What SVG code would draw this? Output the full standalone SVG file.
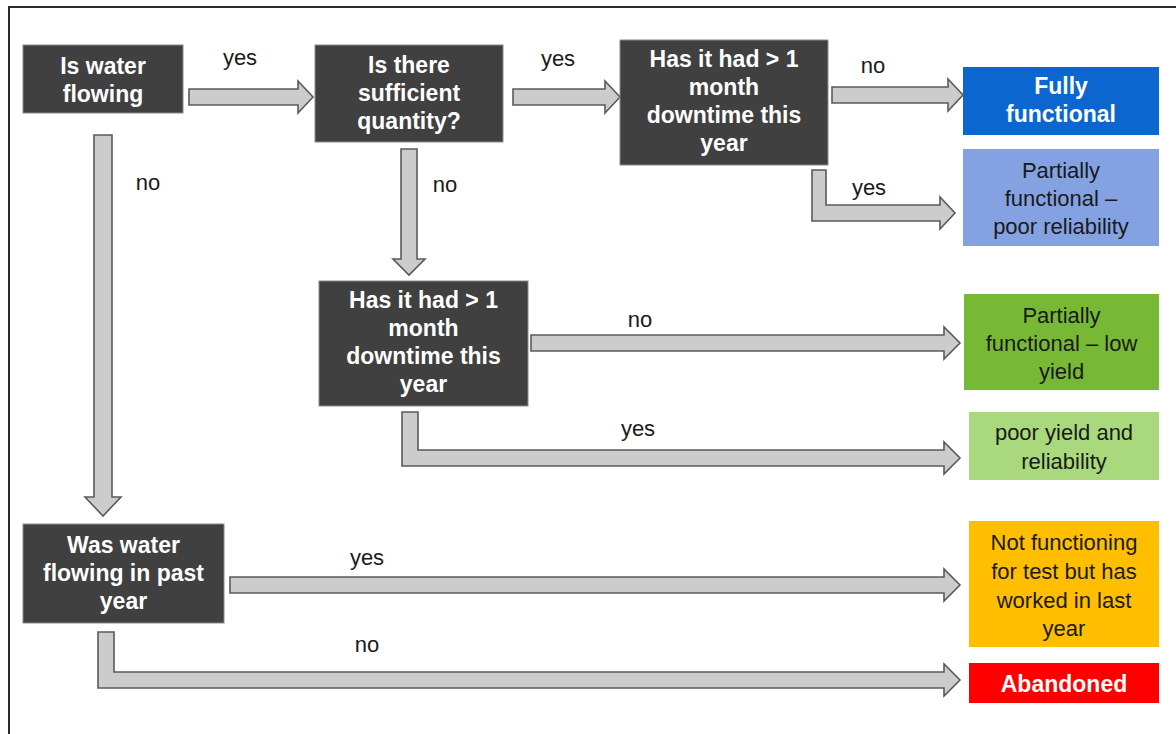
<svg xmlns="http://www.w3.org/2000/svg" width="1176" height="734" viewBox="0 0 1176 734">
<style>
.q{fill:#404040;stroke:#8a8a8a;stroke-width:1}
.qt{font-family:"Liberation Sans",Arial,sans-serif;font-weight:bold;font-size:23px;fill:#ffffff;text-anchor:middle}
.rt{font-family:"Liberation Sans",Arial,sans-serif;font-size:22px;fill:#1a1a1a;text-anchor:middle}
.rb{font-family:"Liberation Sans",Arial,sans-serif;font-weight:bold;font-size:23px;fill:#ffffff;text-anchor:middle}
.lb{font-family:"Liberation Sans",Arial,sans-serif;font-size:22px;fill:#1a1a1a;text-anchor:middle}
.ar{fill:#cccccc;stroke:#5a5a5a;stroke-width:1.6;stroke-linejoin:miter}
</style>
<rect x="0" y="0" width="1176" height="734" fill="#ffffff"/>
<rect x="9" y="7" width="1200" height="800" fill="none" stroke="#2a2a2a" stroke-width="2"/>

<g id="connectors">
<path class="ar" d="M189,89 H298 V81 L313,97 L298,113 V105 H189 Z"/>
<path class="ar" d="M513,89 H605 V81 L620,97 L605,113 V105 H513 Z"/>
<path class="ar" d="M832,87 H948 V79 L963,95 L948,111 V103 H832 Z"/>
<path class="ar" d="M812,170 H826 V205 H940 V197 L955,213 L940,229 V221 H812 Z"/>
<path class="ar" d="M401,149 H417 V259 H425 L409,275 L393,259 H401 Z"/>
<path class="ar" d="M531,335 H944 V327 L960,343 L944,359 V351 H531 Z"/>
<path class="ar" d="M402,412 H418 V450 H944 V442 L960,458 L944,474 V466 H402 Z"/>
<path class="ar" d="M94,135 H112 V497 H121 L103,516 L85,497 H94 Z"/>
<path class="ar" d="M230,577 H944 V569 L960,585 L944,601 V593 H230 Z"/>
<path class="ar" d="M98,632 H114 V672 H944 V664 L960,680 L944,696 V688 H98 Z"/>
<text class="lb" x="240" y="65">yes</text>
<text class="lb" x="558" y="66">yes</text>
<text class="lb" x="873" y="73">no</text>
<text class="lb" x="148" y="190">no</text>
<text class="lb" x="445" y="192">no</text>
<text class="lb" x="869" y="195">yes</text>
<text class="lb" x="640" y="327">no</text>
<text class="lb" x="638" y="436">yes</text>
<text class="lb" x="367" y="565">yes</text>
<text class="lb" x="367" y="652">no</text>
</g>

<g id="q-flowing">
<rect class="q" x="23" y="45" width="160" height="68"/>
<text class="qt" x="103" y="74">Is water</text>
<text class="qt" x="103" y="102">flowing</text>
</g>
<g id="q-quantity">
<rect class="q" x="315" y="45" width="188" height="97"/>
<text class="qt" x="409" y="73">Is there</text>
<text class="qt" x="409" y="101">sufficient</text>
<text class="qt" x="409" y="129">quantity?</text>
</g>
<g id="q-downtime1">
<rect class="q" x="620" y="40" width="208" height="125"/>
<text class="qt" x="724" y="67">Has it had  &gt; 1</text>
<text class="qt" x="724" y="95">month</text>
<text class="qt" x="724" y="123">downtime this</text>
<text class="qt" x="724" y="151">year</text>
</g>
<g id="q-downtime2">
<rect class="q" x="319" y="281" width="209" height="125"/>
<text class="qt" x="423.5" y="308">Has it had  &gt; 1</text>
<text class="qt" x="423.5" y="336">month</text>
<text class="qt" x="423.5" y="364">downtime this</text>
<text class="qt" x="423.5" y="392">year</text>
</g>
<g id="q-pastyear">
<rect class="q" x="23" y="524" width="201" height="99"/>
<text class="qt" x="123.5" y="553">Was water</text>
<text class="qt" x="123.5" y="581">flowing in past</text>
<text class="qt" x="123.5" y="609">year</text>
</g>

<g id="r-fully">
<rect x="963" y="67" width="196" height="68" fill="#0b67cf"/>
<text class="rb" x="1061" y="94">Fully</text>
<text class="rb" x="1061" y="122">functional</text>
</g>
<g id="r-poorrel">
<rect x="963" y="149" width="196" height="97" fill="#84a2e2"/>
<text class="rt" x="1061" y="178">Partially</text>
<text class="rt" x="1061" y="206">functional –</text>
<text class="rt" x="1061" y="234">poor reliability</text>
</g>
<g id="r-lowyield">
<rect x="964" y="294" width="195" height="96" fill="#77b935"/>
<text class="rt" x="1061.5" y="323">Partially</text>
<text class="rt" x="1061.5" y="351">functional – low</text>
<text class="rt" x="1061.5" y="379">yield</text>
</g>
<g id="r-pooryield">
<rect x="969" y="412" width="190" height="68" fill="#a9d97c"/>
<text class="rt" x="1064" y="440">poor yield and</text>
<text class="rt" x="1064" y="469">reliability</text>
</g>
<g id="r-notfunc">
<rect x="969" y="521" width="190" height="126" fill="#ffbf00"/>
<text class="rt" x="1064" y="550">Not functioning</text>
<text class="rt" x="1064" y="579">for test but has</text>
<text class="rt" x="1064" y="608">worked in last</text>
<text class="rt" x="1064" y="636">year</text>
</g>
<g id="r-abandoned">
<rect x="969" y="663" width="190" height="40" fill="#fe0000"/>
<text class="rb" x="1064" y="692">Abandoned</text>
</g>
</svg>
